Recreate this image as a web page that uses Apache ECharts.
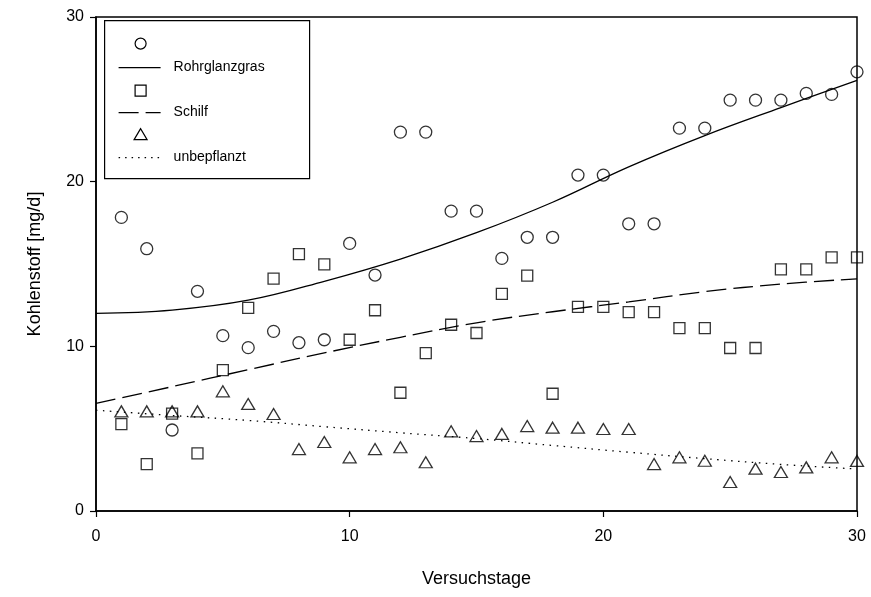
<!DOCTYPE html>
<html>
<head>
<meta charset="utf-8">
<script src="https://cdn.jsdelivr.net/npm/echarts@6/dist/echarts.min.js"></script>
<style>
  html, body { margin: 0; padding: 0; background: #fff; }
  #chart { width: 871px; height: 597px; }
</style>
</head>
<body>
<div id="chart"></div>
<script>
// Measured carbon output per day of the experiment
const days = [1, 2, 3, 4, 5, 6, 7, 8, 9, 10, 11, 12, 13, 14, 15,
              16, 17, 18, 19, 20, 21, 22, 23, 24, 25, 26, 27, 28, 29, 30];
const rohrglanzgras = [17.83, 15.93, 4.92, 13.34, 10.65, 9.92, 10.91, 10.22, 10.40, 16.25,
                       14.33, 23.01, 23.01, 18.21, 18.21, 15.34, 16.62, 16.62, 20.40, 20.40,
                       17.44, 17.44, 23.25, 23.25, 24.95, 24.95, 24.95, 25.36, 25.30, 26.67];
const schilf = [5.28, 2.85, 5.91, 3.50, 8.56, 12.33, 14.11, 15.60, 14.98, 10.40,
                12.19, 7.18, 9.59, 11.31, 10.81, 13.19, 14.29, 7.12, 12.40, 12.40,
                12.08, 12.08, 11.11, 11.11, 9.90, 9.90, 14.67, 14.67, 15.40, 15.40];
const unbepflanzt = [6.05, 6.05, 6.05, 6.05, 7.27, 6.50, 5.89, 3.76, 4.19, 3.26,
                     3.76, 3.87, 2.96, 4.84, 4.55, 4.68, 5.16, 5.06, 5.06, 4.98,
                     4.98, 2.85, 3.26, 3.05, 1.76, 2.57, 2.37, 2.65, 3.26, 3.04];

// Trend curves
const trendDays = [0, 3, 6, 9, 12, 15, 18, 21, 24, 27, 30];
const rohrTrend = [12.0, 12.2, 12.8, 13.95, 15.3, 16.9, 18.75, 20.9, 22.8, 24.5, 26.15];
const schilfTrend = [6.53, 7.55, 8.58, 9.6, 10.55, 11.43, 12.1, 12.7, 13.32, 13.78, 14.1];
const unbepflanztTrend = [6.12, 5.8, 5.5, 5.12, 4.75, 4.4, 3.98, 3.57, 3.18, 2.83, 2.55];

const xTicks = [0, 10, 20, 30];
const yTicks = [0, 10, 20, 30];

const FONT = '"Liberation Sans", Arial, sans-serif';
const pairs = (xs, ys) => xs.map((x, i) => [x, ys[i]]);

const markerStyle = { color: 'rgba(0,0,0,0)', borderColor: '#000', borderWidth: 1.3 };

const chart = echarts.init(document.getElementById('chart'), null, { renderer: 'canvas' });

// Legend drawn as a framed box with marker rows and line rows
const lx = 104, ly = 20;
const legendRows = [
  { kind: 'symbol', shape: 'circle', y: 23 },
  { kind: 'line', dash: null, y: 47, text: 'Rohrglanzgras' },
  { kind: 'symbol', shape: 'rect', y: 70 },
  { kind: 'line', dash: [20, 7], y: 92, text: 'Schilf' },
  { kind: 'symbol', shape: 'triangle', y: 114 },
  { kind: 'line', dash: [1.5, 5], y: 137, text: 'unbepflanzt' }
];
const legendChildren = [{
  type: 'rect',
  shape: { x: 0, y: 0, width: 205, height: 158 },
  style: { fill: '#fff', stroke: '#000', lineWidth: 1.2 }
}];
legendRows.forEach(r => {
  if (r.kind === 'symbol') {
    const cx = 36;
    if (r.shape === 'circle') {
      legendChildren.push({ type: 'circle', shape: { cx: cx, cy: r.y, r: 5.5 },
        style: { fill: 'none', stroke: '#000', lineWidth: 1.2 } });
    } else if (r.shape === 'rect') {
      legendChildren.push({ type: 'rect', shape: { x: cx - 5.5, y: r.y - 5.5, width: 11, height: 11 },
        style: { fill: 'none', stroke: '#000', lineWidth: 1.2 } });
    } else {
      legendChildren.push({ type: 'polygon', shape: { points: [[cx, r.y - 6], [cx - 6.5, r.y + 5], [cx + 6.5, r.y + 5]] },
        style: { fill: 'none', stroke: '#000', lineWidth: 1.2 } });
    }
  } else {
    legendChildren.push({ type: 'line', shape: { x1: 14, y1: r.y, x2: 56, y2: r.y },
      style: { stroke: '#000', lineWidth: 1.2, lineDash: r.dash || null } });
    legendChildren.push({ type: 'text', x: 69, y: r.y,
      style: { text: r.text, font: '14px ' + FONT, fill: '#000', verticalAlign: 'middle', align: 'left' } });
  }
});

const option = {
  animation: false,
  backgroundColor: '#fff',
  grid: {
    left: 96, right: 14, top: 17, bottom: 86,
    show: true, borderColor: '#000', borderWidth: 1.5, backgroundColor: 'transparent'
  },
  xAxis: {
    type: 'value', min: xTicks[0], max: xTicks[xTicks.length - 1], interval: 10,
    name: 'Versuchstage', nameLocation: 'middle', nameGap: 59,
    nameTextStyle: { fontFamily: FONT, fontSize: 18, color: '#000' },
    axisLine: { lineStyle: { color: '#000', width: 1.5 } },
    axisTick: { show: true, inside: false, length: 6, lineStyle: { color: '#000', width: 1.2 } },
    axisLabel: { fontFamily: FONT, fontSize: 16, color: '#000', margin: 18 },
    splitLine: { show: false }
  },
  yAxis: {
    type: 'value', min: yTicks[0], max: yTicks[yTicks.length - 1], interval: 10,
    name: 'Kohlenstoff [mg/d]', nameLocation: 'middle', nameGap: 52,
    nameTextStyle: { fontFamily: FONT, fontSize: 18, color: '#000' },
    axisLine: { lineStyle: { color: '#000', width: 1.5 } },
    axisTick: { show: true, inside: false, length: 6, lineStyle: { color: '#000', width: 1.2 } },
    axisLabel: { fontFamily: FONT, fontSize: 16, color: '#000', margin: 12 },
    splitLine: { show: false }
  },
  series: [
    { name: 'Rohrglanzgras Messwerte', type: 'scatter', symbol: 'circle', symbolSize: 12,
      itemStyle: markerStyle, data: pairs(days, rohrglanzgras), z: 3 },
    { name: 'Schilf Messwerte', type: 'scatter', symbol: 'rect', symbolSize: 11,
      itemStyle: markerStyle, data: pairs(days, schilf), z: 3 },
    { name: 'unbepflanzt Messwerte', type: 'scatter', symbol: 'triangle', symbolSize: [13, 11],
      itemStyle: markerStyle, data: pairs(days, unbepflanzt), z: 3 },
    { name: 'Rohrglanzgras', type: 'line', smooth: 0.4, showSymbol: false, symbol: 'none',
      lineStyle: { color: '#000', width: 1.3, type: 'solid' }, data: pairs(trendDays, rohrTrend), z: 2 },
    { name: 'Schilf', type: 'line', smooth: 0.4, showSymbol: false, symbol: 'none',
      lineStyle: { color: '#000', width: 1.3, type: [20, 7] }, data: pairs(trendDays, schilfTrend), z: 2 },
    { name: 'unbepflanzt', type: 'line', smooth: 0.4, showSymbol: false, symbol: 'none',
      lineStyle: { color: '#000', width: 1.3, type: [1.5, 5.5] }, data: pairs(trendDays, unbepflanztTrend), z: 2 }
  ],
  graphic: [{ type: 'group', left: lx, top: ly, z: 10, children: legendChildren }]
};

chart.setOption(option);
</script>
</body>
</html>
